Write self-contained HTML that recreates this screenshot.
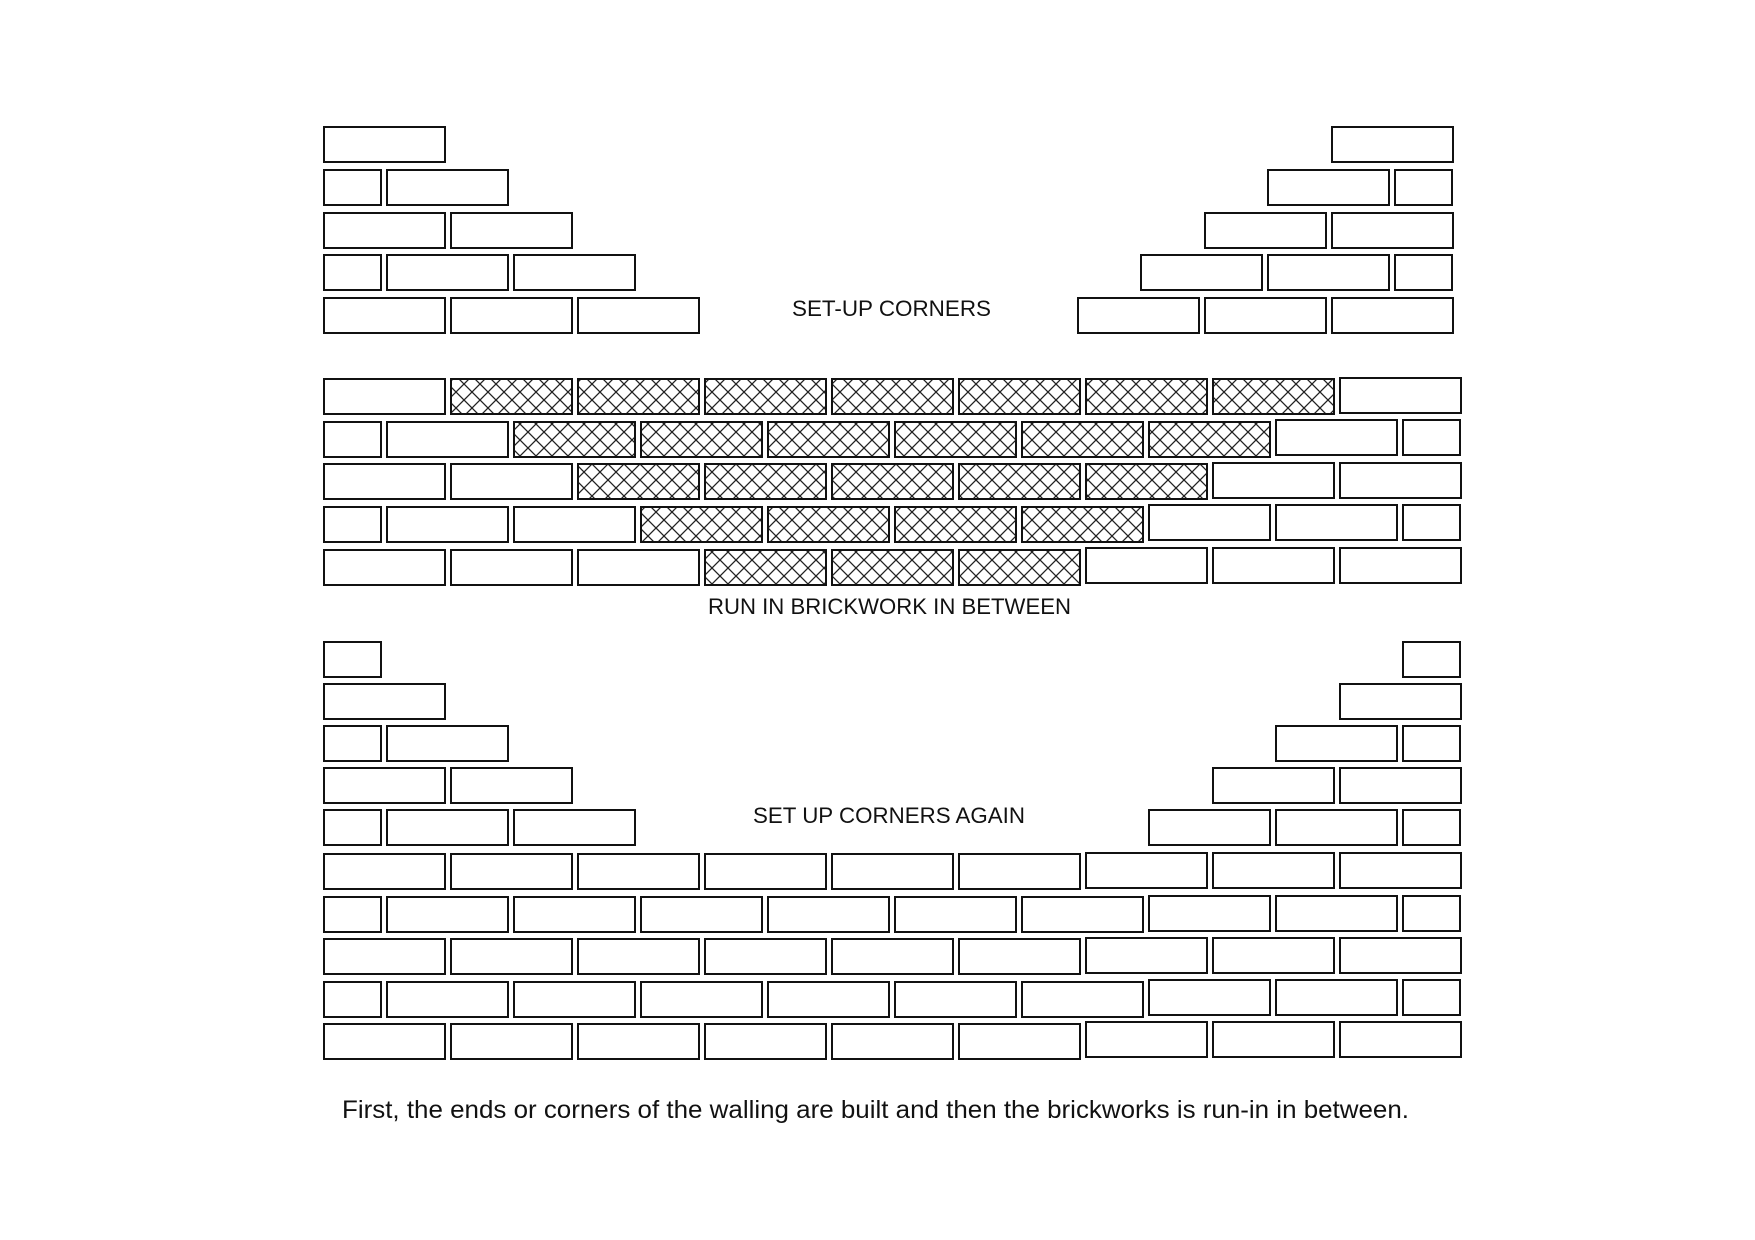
<!DOCTYPE html>
<html><head><meta charset="utf-8"><style>
html,body{margin:0;padding:0;background:#fff;}
svg{display:block;}
rect{fill:#fff;stroke:#111;stroke-width:2;}
rect.h{fill:url(#hatch);}
text{font-family:"Liberation Sans",Arial,sans-serif;fill:#111;}
</style></head><body>
<svg width="1755" height="1240" viewBox="0 0 1755 1240" xmlns="http://www.w3.org/2000/svg">
<defs>
<pattern id="hatch" patternUnits="userSpaceOnUse" width="16" height="16">
<rect x="0" y="0" width="16" height="16" style="fill:#fff;stroke:none"/>
<path d="M0,0 L16,16 M16,0 L0,16" stroke="#222" stroke-width="1.3" fill="none"/>
</pattern>
</defs>

<rect x="324" y="127" width="121" height="35"/>
<rect x="324" y="170" width="57" height="35"/><rect x="387" y="170" width="121" height="35"/>
<rect x="324" y="213" width="121" height="35"/><rect x="451" y="213" width="121" height="35"/>
<rect x="324" y="255" width="57" height="35"/><rect x="387" y="255" width="121" height="35"/><rect x="514" y="255" width="121" height="35"/>
<rect x="324" y="298" width="121" height="35"/><rect x="451" y="298" width="121" height="35"/><rect x="578" y="298" width="121" height="35"/>

<rect x="1332" y="127" width="121" height="35"/>
<rect x="1268" y="170" width="121" height="35"/><rect x="1395" y="170" width="57" height="35"/>
<rect x="1205" y="213" width="121" height="35"/><rect x="1332" y="213" width="121" height="35"/>
<rect x="1141" y="255" width="121" height="35"/><rect x="1268" y="255" width="121" height="35"/><rect x="1395" y="255" width="57" height="35"/>
<rect x="1078" y="298" width="121" height="35"/><rect x="1205" y="298" width="121" height="35"/><rect x="1332" y="298" width="121" height="35"/>

<text x="792" y="316" font-size="22" textLength="199" lengthAdjust="spacingAndGlyphs">SET-UP CORNERS</text>

<rect x="324" y="379" width="121" height="35"/>
<rect class="h" x="451" y="379" width="121" height="35"/>
<rect class="h" x="578" y="379" width="121" height="35"/>
<rect class="h" x="705" y="379" width="121" height="35"/>
<rect class="h" x="832" y="379" width="121" height="35"/>
<rect class="h" x="959" y="379" width="121" height="35"/>
<rect class="h" x="1086" y="379" width="121" height="35"/>
<rect class="h" x="1213" y="379" width="121" height="35"/>
<rect x="1340" y="378" width="121" height="35"/>
<rect x="324" y="422" width="57" height="35"/>
<rect x="387" y="422" width="121" height="35"/>
<rect class="h" x="514" y="422" width="121" height="35"/>
<rect class="h" x="641" y="422" width="121" height="35"/>
<rect class="h" x="768" y="422" width="121" height="35"/>
<rect class="h" x="895" y="422" width="121" height="35"/>
<rect class="h" x="1022" y="422" width="121" height="35"/>
<rect class="h" x="1149" y="422" width="121" height="35"/>
<rect x="1276" y="420" width="121" height="35"/>
<rect x="1403" y="420" width="57" height="35"/>
<rect x="324" y="464" width="121" height="35"/>
<rect x="451" y="464" width="121" height="35"/>
<rect class="h" x="578" y="464" width="121" height="35"/>
<rect class="h" x="705" y="464" width="121" height="35"/>
<rect class="h" x="832" y="464" width="121" height="35"/>
<rect class="h" x="959" y="464" width="121" height="35"/>
<rect class="h" x="1086" y="464" width="121" height="35"/>
<rect x="1213" y="463" width="121" height="35"/>
<rect x="1340" y="463" width="121" height="35"/>
<rect x="324" y="507" width="57" height="35"/>
<rect x="387" y="507" width="121" height="35"/>
<rect x="514" y="507" width="121" height="35"/>
<rect class="h" x="641" y="507" width="121" height="35"/>
<rect class="h" x="768" y="507" width="121" height="35"/>
<rect class="h" x="895" y="507" width="121" height="35"/>
<rect class="h" x="1022" y="507" width="121" height="35"/>
<rect x="1149" y="505" width="121" height="35"/>
<rect x="1276" y="505" width="121" height="35"/>
<rect x="1403" y="505" width="57" height="35"/>
<rect x="324" y="550" width="121" height="35"/>
<rect x="451" y="550" width="121" height="35"/>
<rect x="578" y="550" width="121" height="35"/>
<rect class="h" x="705" y="550" width="121" height="35"/>
<rect class="h" x="832" y="550" width="121" height="35"/>
<rect class="h" x="959" y="550" width="121" height="35"/>
<rect x="1086" y="548" width="121" height="35"/>
<rect x="1213" y="548" width="121" height="35"/>
<rect x="1340" y="548" width="121" height="35"/>

<text x="708" y="614" font-size="22" textLength="363" lengthAdjust="spacingAndGlyphs">RUN IN BRICKWORK IN BETWEEN</text>

<rect x="324" y="642" width="57" height="35"/>
<rect x="1403" y="642" width="57" height="35"/>
<rect x="324" y="684" width="121" height="35"/>
<rect x="1340" y="684" width="121" height="35"/>
<rect x="324" y="726" width="57" height="35"/><rect x="387" y="726" width="121" height="35"/>
<rect x="1276" y="726" width="121" height="35"/><rect x="1403" y="726" width="57" height="35"/>
<rect x="324" y="768" width="121" height="35"/><rect x="451" y="768" width="121" height="35"/>
<rect x="1213" y="768" width="121" height="35"/><rect x="1340" y="768" width="121" height="35"/>
<rect x="324" y="810" width="57" height="35"/><rect x="387" y="810" width="121" height="35"/><rect x="514" y="810" width="121" height="35"/>
<rect x="1149" y="810" width="121" height="35"/><rect x="1276" y="810" width="121" height="35"/><rect x="1403" y="810" width="57" height="35"/>

<text x="753" y="823" font-size="22" textLength="272" lengthAdjust="spacingAndGlyphs">SET UP CORNERS AGAIN</text>

<g>
<rect x="324" y="854" width="121" height="35"/><rect x="451" y="854" width="121" height="35"/><rect x="578" y="854" width="121" height="35"/><rect x="705" y="854" width="121" height="35"/><rect x="832" y="854" width="121" height="35"/><rect x="959" y="854" width="121" height="35"/><rect x="1086" y="853" width="121" height="35"/><rect x="1213" y="853" width="121" height="35"/><rect x="1340" y="853" width="121" height="35"/>
<rect x="324" y="897" width="57" height="35"/><rect x="387" y="897" width="121" height="35"/><rect x="514" y="897" width="121" height="35"/><rect x="641" y="897" width="121" height="35"/><rect x="768" y="897" width="121" height="35"/><rect x="895" y="897" width="121" height="35"/><rect x="1022" y="897" width="121" height="35"/><rect x="1149" y="896" width="121" height="35"/><rect x="1276" y="896" width="121" height="35"/><rect x="1403" y="896" width="57" height="35"/>
<rect x="324" y="939" width="121" height="35"/><rect x="451" y="939" width="121" height="35"/><rect x="578" y="939" width="121" height="35"/><rect x="705" y="939" width="121" height="35"/><rect x="832" y="939" width="121" height="35"/><rect x="959" y="939" width="121" height="35"/><rect x="1086" y="938" width="121" height="35"/><rect x="1213" y="938" width="121" height="35"/><rect x="1340" y="938" width="121" height="35"/>
<rect x="324" y="982" width="57" height="35"/><rect x="387" y="982" width="121" height="35"/><rect x="514" y="982" width="121" height="35"/><rect x="641" y="982" width="121" height="35"/><rect x="768" y="982" width="121" height="35"/><rect x="895" y="982" width="121" height="35"/><rect x="1022" y="982" width="121" height="35"/><rect x="1149" y="980" width="121" height="35"/><rect x="1276" y="980" width="121" height="35"/><rect x="1403" y="980" width="57" height="35"/>
<rect x="324" y="1024" width="121" height="35"/><rect x="451" y="1024" width="121" height="35"/><rect x="578" y="1024" width="121" height="35"/><rect x="705" y="1024" width="121" height="35"/><rect x="832" y="1024" width="121" height="35"/><rect x="959" y="1024" width="121" height="35"/><rect x="1086" y="1022" width="121" height="35"/><rect x="1213" y="1022" width="121" height="35"/><rect x="1340" y="1022" width="121" height="35"/>
</g>

<text x="342" y="1118" font-size="25" textLength="1067" lengthAdjust="spacingAndGlyphs">First, the ends or corners of the walling are built and then the brickworks is run-in in between.</text>
</svg>
</body></html>
